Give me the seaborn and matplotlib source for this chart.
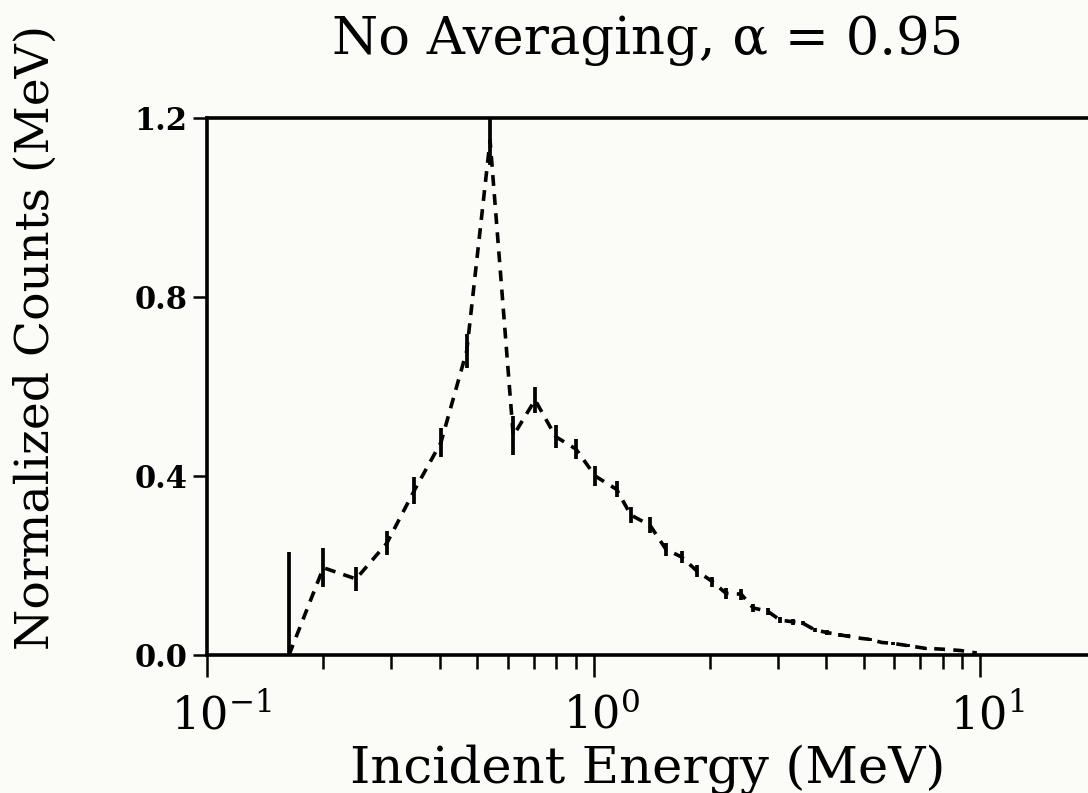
import numpy as np
import pandas as pd
import matplotlib
matplotlib.use("Agg")
import matplotlib.pyplot as plt
import matplotlib.ticker as mticker
import matplotlib.transforms as mtransforms
import seaborn as sns

# ---- data ----
energy = [0.163, 0.200, 0.243, 0.292, 0.344, 0.403, 0.470, 0.540, 0.620, 0.706,
          0.798, 0.901, 1.01, 1.148, 1.248, 1.40, 1.54, 1.69, 1.85, 2.03,
          2.20, 2.41, 2.59, 2.82, 3.04, 3.29, 3.48, 3.74, 4.03, 4.34,
          4.55, 4.94, 5.19, 5.57, 5.95, 6.5, 7.2, 8.0, 8.9, 9.7]
counts = [0.0, 0.195, 0.170, 0.250, 0.368, 0.475, 0.680, 1.150, 0.490, 0.570,
          0.488, 0.460, 0.400, 0.370, 0.313, 0.290, 0.236, 0.219, 0.188, 0.164,
          0.138, 0.136, 0.105, 0.098, 0.078, 0.074, 0.071, 0.056, 0.050, 0.045,
          0.042, 0.037, 0.035, 0.028, 0.026, 0.021, 0.015, 0.013, 0.010, 0.005]
errors = [0.23, 0.043, 0.027, 0.027, 0.030, 0.032, 0.038, 0.055, 0.043, 0.030,
          0.025, 0.022, 0.022, 0.018, 0.018, 0.018, 0.015, 0.013, 0.013, 0.011,
          0.012, 0.012, 0.010, 0.008, 0.006, 0.006, 0.005, 0.005, 0.005, 0.004,
          0.004, 0.004, 0.004, 0.004, 0.004, 0.004, 0.003, 0.003, 0.003, 0.003]

y_ticks = [0.0, 0.4, 0.8, 1.2]
y_tick_labels = ["0.0", "0.4", "0.8", "1.2"]
x_ticks = [0.1, 1.0, 10.0]
x_tick_labels = [r"$10^{-1}$", r"$10^{0}$", r"$10^{1}$"]

title = "No Averaging, \u03b1 = 0.95"
xlabel = "Incident Energy (MeV)"
ylabel = "Normalized Counts (MeV)"

df = pd.DataFrame({"energy": energy, "counts": counts, "err": errors})

# ---- style ----
sns.set_style("ticks")
bg = "#fbfbf8"
plt.rcParams["font.family"] = ["DejaVu Serif"]
plt.rcParams["mathtext.fontset"] = "dejavuserif"
for k in ("text.color", "axes.labelcolor", "xtick.color", "ytick.color",
          "axes.edgecolor"):
    plt.rcParams[k] = "black"

fig = plt.figure(figsize=(10.88, 7.93), dpi=100, facecolor=bg)
ax = fig.add_axes([207 / 1088, 138 / 793, 881 / 1088, 537 / 793])
ax.set_facecolor(bg)

sns.lineplot(data=df, x="energy", y="counts", ax=ax, color="black",
             linewidth=2.6, linestyle=(0, (3.0, 2.3)))
ax.errorbar(df["energy"], df["counts"], yerr=df["err"], fmt="none",
            ecolor="black", elinewidth=2.7, capsize=0)

ax.set_xscale("log")
ax.set_xlim(0.1, 10 ** (881 / 386.5 - 1))
ax.set_ylim(0, 1.2)

ax.set_xticks(x_ticks)
ax.set_xticklabels(x_tick_labels)
minor = [m * 10.0 ** d for d in (-1, 0) for m in range(2, 10)]
ax.xaxis.set_minor_locator(mticker.FixedLocator(minor))
ax.xaxis.set_minor_formatter(mticker.NullFormatter())
ax.set_yticks(y_ticks)
ax.set_yticklabels(y_tick_labels, fontweight="bold")

ax.tick_params(axis="x", which="major", direction="out", length=16, width=1.8,
               labelsize=32, pad=12, colors="black")
ax.tick_params(axis="x", which="minor", direction="out", length=10, width=1.8,
               colors="black")
ax.tick_params(axis="y", which="major", direction="out", length=10, width=1.8,
               labelsize=22, pad=4, colors="black")

# centre the "10" (not the whole label) under each decade tick
shifts = [14, 8, 7]
for lab, dx in zip(ax.get_xticklabels(), shifts):
    lab.set_transform(lab.get_transform() +
                      mtransforms.ScaledTranslation(dx / 100, 0, fig.dpi_scale_trans))

for s in ("left", "top", "bottom"):
    ax.spines[s].set_linewidth(2.6)
    ax.spines[s].set_color("black")
ax.spines["right"].set_visible(False)

ax.set_title(title, fontsize=38, pad=46, color="black")
ax.set_xlabel(xlabel, fontsize=37, labelpad=4, color="black")
ax.set_ylabel(ylabel, fontsize=34, color="black")
ax.yaxis.set_label_coords(-0.168, 0.592)

fig.savefig("out.png", dpi=100, facecolor=bg)
